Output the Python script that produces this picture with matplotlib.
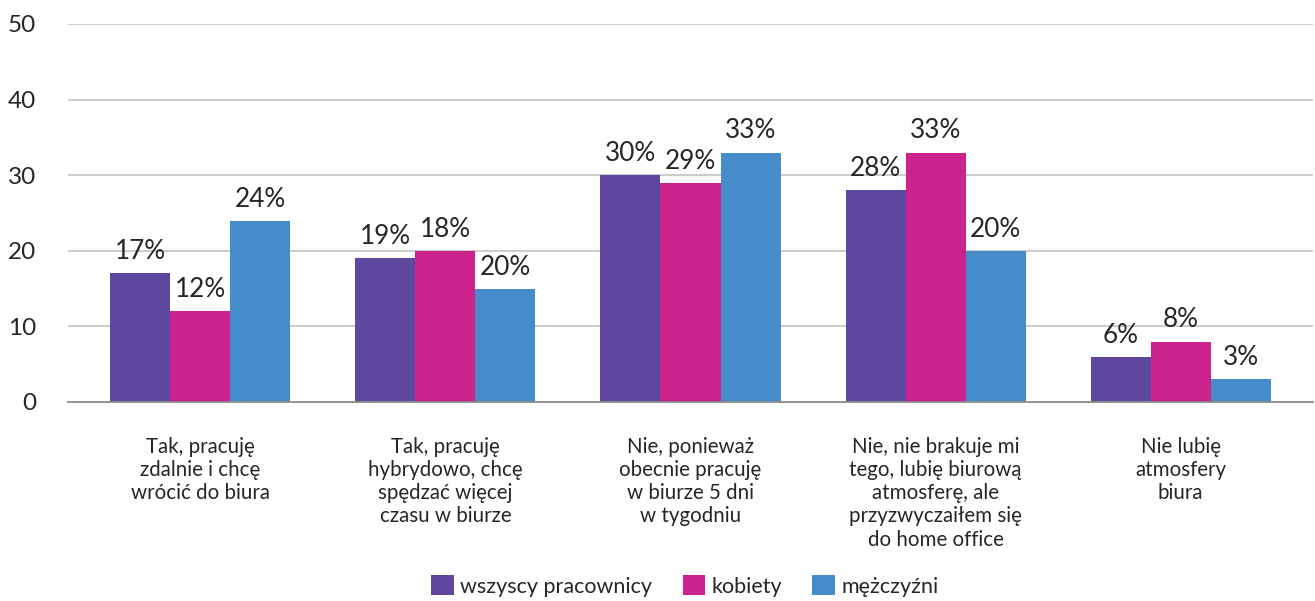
import numpy as np
import matplotlib.pyplot as plt
from matplotlib.patches import Patch

plt.rcParams['font.family'] = ['Lato', 'DejaVu Sans']

categories = [
    'Tak, pracuję\nzdalnie i chcę\nwrócić do biura',
    'Tak, pracuję\nhybrydowo, chcę\nspędzać więcej\nczasu w biurze',
    'Nie, ponieważ\nobecnie pracuję\nw biurze 5 dni\nw tygodniu',
    'Nie, nie brakuje mi\ntego, lubię biurową\natmosferę, ale\nprzyzwyczaiłem się\ndo home office',
    'Nie lubię\natmosfery\nbiura',
]
series_names = ['wszyscy pracownicy', 'kobiety', 'mężczyźni']
# bar heights as drawn
wszyscy = [17, 19, 30, 28, 6]
kobiety = [12, 20, 29, 33, 8]
mezczyzni = [24, 15, 33, 20, 3]
# labels as printed above the bars
wszyscy_lbl = ['17%', '19%', '30%', '28%', '6%']
kobiety_lbl = ['12%', '18%', '29%', '33%', '8%']
mezczyzni_lbl = ['24%', '20%', '33%', '20%', '3%']

colors = ['#5E489D', '#CC228E', '#468BCA']
text_color = '#262626'

fig = plt.figure(figsize=(13.15, 6.01), dpi=100)
ax = fig.add_axes([68 / 1315, 1 - 402 / 601, (1313 - 68) / 1315, (402 - 24) / 601])

x = np.arange(len(categories))
w = 0.245
values = [wszyscy, kobiety, mezczyzni]
labels = [wszyscy_lbl, kobiety_lbl, mezczyzni_lbl]
for i, (vals, lbls) in enumerate(zip(values, labels)):
    pos = x + (i - 1) * w
    ax.bar(pos, vals, width=w, color=colors[i], zorder=3)
    for px, v, t in zip(pos, vals, lbls):
        ax.annotate(t, (px, v), xytext=(0, 6.5), textcoords='offset points',
                    ha='center', va='bottom', fontsize=18.8, color=text_color)

ax.set_ylim(0, 50)
ax.set_xlim(-0.54, 4.54)
ax.set_yticks(range(0, 51, 10))
ax.tick_params(axis='y', length=0, labelsize=17.5, labelcolor=text_color, pad=23)
ax.grid(axis='y', color='#C8C8C8', linewidth=1.3, zorder=0)
ax.set_xticks(x)
ax.set_xticklabels(categories, fontsize=14.8, color=text_color, linespacing=1.2)
ax.tick_params(axis='x', length=0, pad=25)
for s in ['top', 'right', 'left']:
    ax.spines[s].set_visible(False)
ax.spines['bottom'].set_color('#8C8C8C')
ax.spines['bottom'].set_linewidth(1.3)
ax.spines['bottom'].set_zorder(4)

handles = [Patch(facecolor=c, label=n) for c, n in zip(colors, series_names)]
fig.legend(handles=handles, loc='center', bbox_to_anchor=(685 / 1315, 1 - 586 / 601),
           ncol=3, frameon=False, fontsize=15.5, handlelength=1.05, handleheight=1.05,
           handletextpad=0.3, columnspacing=1.4, labelcolor=text_color)

fig.savefig('out.png', dpi=100)
